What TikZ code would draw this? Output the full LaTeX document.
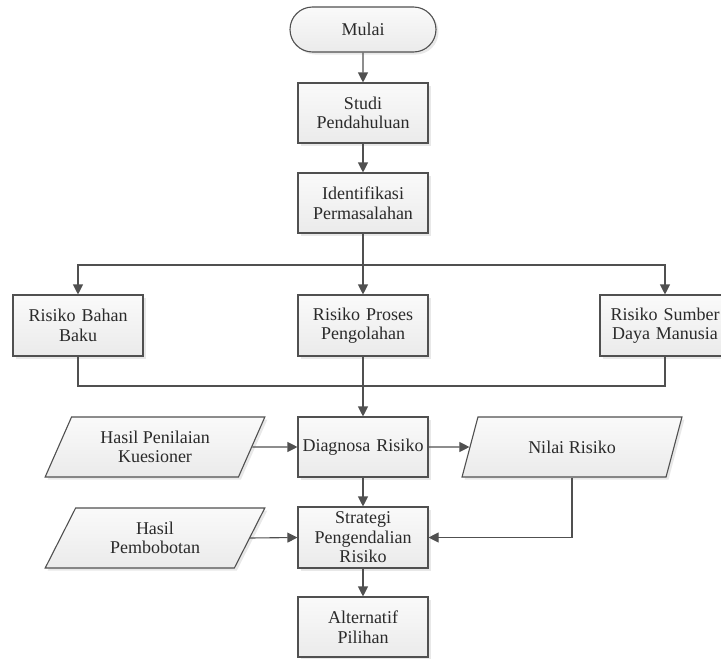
\documentclass[tikz,border=0pt]{standalone}
\usepackage{fontspec}
\setmainfont{Liberation Serif}
\usetikzlibrary{shapes.geometric,shapes.misc,arrows.meta,shadows}
\definecolor{edge}{HTML}{505050}
\definecolor{ink}{HTML}{2A2A2A}
\begin{document}
\begin{tikzpicture}[x=1pt,y=-1pt,
  font=\fontsize{18}{19.5}\selectfont, text=ink,
  base/.style={draw=edge,line width=1.1pt,top color=gray!4,bottom color=gray!16,
    drop shadow={shadow xshift=2.5pt,shadow yshift=-2.5pt,fill=gray!35,opacity=0.5},
    align=center,inner sep=1pt},
  procbox/.style={base,rectangle,minimum width=130pt,minimum height=60pt,text width=128pt},
  termbox/.style={base,rounded rectangle,minimum width=148pt,minimum height=45pt},
  iobox/.style={base,trapezium,trapezium left angle=62.7,trapezium right angle=117.3,
    trapezium stretches=true,minimum width=220pt,minimum height=60pt},
  arr/.style={draw=edge,line width=1.1pt,-{Triangle[length=10pt,width=10pt]}},
  ln/.style={draw=edge,line width=1.1pt}]
\useasboundingbox (0,0) rectangle (721,659);
\node[termbox] (mulai) at (363,29.5) {Mulai};
\node[procbox] (studi) at (363,113) {Studi\\Pendahuluan};
\node[procbox] (ident) at (363,203) {Identifikasi\\Permasalahan};
\node[procbox,minimum height=61pt] (rbb) at (78,325.5) {Risiko Bahan\\Baku};
\node[procbox,minimum height=61pt] (rpp) at (363,325.5) {Risiko Proses\\Pengolahan};
\node[procbox,minimum height=61pt] (rsdm) at (665,325.5) {Risiko Sumber\\Daya Manusia};
\node[procbox] (diag) at (363,447) {Diagnosa Risiko};
\node[iobox] (hpk) at (155,447) {Hasil Penilaian\\Kuesioner};
\node[iobox] (nilai) at (572,447) {Nilai Risiko};
\node[procbox,minimum height=61pt] (strat) at (363,537.5) {Strategi\\Pengendalian\\Risiko};
\node[iobox] (hpb) at (155,538) {Hasil\\Pembobotan};
\node[procbox] (alt) at (363,627) {Alternatif\\Pilihan};
\coordinate (split) at (363,265);
\coordinate (merge) at (363,386);
\draw[arr] (mulai) -- (studi);
\draw[arr] (studi) -- (ident);
\draw[arr] (ident.south) -- (rpp.north);
\draw[arr] (split) -| (rbb.north);
\draw[arr] (split) -| (rsdm.north);
\draw[ln] (rbb.south) |- (merge) -| (rsdm.south);
\draw[arr] (rpp.south) -- (diag.north);
\draw[arr] (hpk.east) -- (diag.west);
\draw[arr] (diag.east) -- (nilai.west);
\draw[arr] (diag.south) -- (strat.north);
\draw[arr] (hpb.east) -- (strat.west);
\draw[arr] (nilai.south) |- (strat.east);
\draw[arr] (strat.south) -- (alt.north);
\end{tikzpicture}
\end{document}
